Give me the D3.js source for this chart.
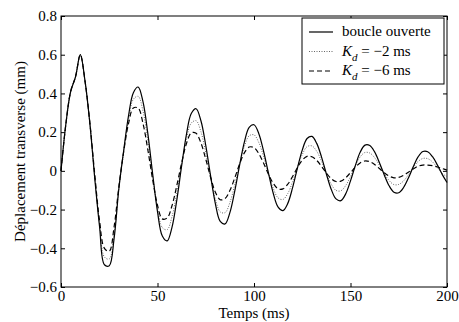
<!DOCTYPE html>
<html lang="fr">
<head>
    <meta charset="UTF-8">
    <title>Déplacement transverse</title>
    <script src="https://d3js.org/d3.v7.min.js"></script>
    <style>
        body { margin: 0; background: #fff; }
        text { font-family: "Liberation Serif", "Times New Roman", serif; font-size: 15px; fill: #000; }
        .axis path { display: none; }
        .axis line { stroke: #000; }
    </style>
</head>
<body>
<script>
    // sample times (ms) and the three responses (mm)
    const timeMs = [0, 2.5, 5, 7.5, 10, 12.5, 15, 17.5, 20, 22.5, 25, 27.5, 30, 32.5, 35, 37.5, 40, 42.5, 45, 47.5,
        50, 52.5, 55, 57.5, 60, 62.5, 65, 67.5, 70, 72.5, 75, 77.5, 80, 82.5, 85, 87.5, 90, 92.5, 95, 97.5,
        100, 102.5, 105, 107.5, 110, 112.5, 115, 117.5, 120, 122.5, 125, 127.5, 130, 132.5, 135, 137.5, 140, 142.5, 145, 147.5,
        150, 152.5, 155, 157.5, 160, 162.5, 165, 167.5, 170, 172.5, 175, 177.5, 180, 182.5, 185, 187.5, 190, 192.5, 195, 197.5, 200];

    const openLoop = [0, 0.24, 0.41, 0.485, 0.60, 0.46, 0.24, -0.04, -0.29, -0.485,
        -0.49, -0.35, -0.09, 0.106, 0.286, 0.404, 0.433, 0.356, 0.192, -0.016,
        -0.211, -0.337, -0.362, -0.292, -0.151, 0.025, 0.189, 0.296, 0.321, 0.259,
        0.132, -0.025, -0.170, -0.261, -0.274, -0.216, -0.106, 0.027, 0.148, 0.225,
        0.238, 0.192, 0.100, -0.012, -0.117, -0.187, -0.205, -0.168, -0.087, 0.014,
        0.107, 0.167, 0.178, 0.142, 0.071, -0.016, -0.095, -0.145, -0.154, -0.119,
        -0.052, 0.027, 0.096, 0.133, 0.131, 0.098, 0.042, -0.021, -0.077, -0.110,
        -0.113, -0.086, -0.037, 0.021, 0.072, 0.100, 0.099, 0.073, 0.031, -0.018,
        -0.060];

    const kdMinus2 = [0, 0.24, 0.41, 0.485, 0.60, 0.46, 0.24, -0.03, -0.275, -0.445,
        -0.455, -0.33, -0.09, 0.10, 0.265, 0.37, 0.385, 0.308, 0.157, -0.027,
        -0.192, -0.293, -0.304, -0.237, -0.114, 0.033, 0.165, 0.247, 0.259, 0.202,
        0.094, -0.033, -0.146, -0.212, -0.216, -0.164, -0.073, 0.033, 0.126, 0.181,
        0.186, 0.146, 0.073, -0.013, -0.091, -0.140, -0.148, -0.117, -0.056, 0.018,
        0.084, 0.125, 0.129, 0.101, 0.049, -0.013, -0.068, -0.101, -0.103, -0.076,
        -0.029, 0.026, 0.072, 0.095, 0.092, 0.068, 0.029, -0.014, -0.050, -0.071,
        -0.070, -0.052, -0.020, 0.017, 0.048, 0.064, 0.063, 0.046, 0.017, -0.013,
        -0.03];

    const kdMinus6 = [0, 0.24, 0.41, 0.485, 0.60, 0.46, 0.245, -0.02, -0.26, -0.40,
        -0.415, -0.29, -0.08, 0.10, 0.245, 0.325, 0.324, 0.244, 0.108, -0.046,
        -0.177, -0.248, -0.244, -0.180, -0.076, 0.041, 0.141, 0.196, 0.194, 0.144,
        0.061, -0.033, -0.110, -0.149, -0.143, -0.102, -0.037, 0.034, 0.093, 0.123,
        0.120, 0.089, 0.039, -0.018, -0.065, -0.093, -0.093, -0.069, -0.029, 0.017,
        0.055, 0.075, 0.073, 0.054, 0.023, -0.011, -0.040, -0.055, -0.053, -0.036,
        -0.009, 0.019, 0.041, 0.051, 0.047, 0.033, 0.012, -0.010, -0.027, -0.036,
        -0.034, -0.023, -0.007, 0.010, 0.024, 0.030, 0.030, 0.027, 0.020, 0.012,
        0.004];

    const xTicks = [0, 50, 100, 150, 200];
    const yTicks = [-0.6, -0.4, -0.2, 0, 0.2, 0.4, 0.6, 0.8];
    const yTickLabels = ["\u22120.6", "\u22120.4", "\u22120.2", "0", "0.2", "0.4", "0.6", "0.8"];

    let width = 459;
    let height = 322;
    let plotLeft = 61, plotRight = 447, plotTop = 16, plotBottom = 287;

    let svg = d3.select("body").append("svg")
        .attr("width", width)
        .attr("height", height);

    let x = d3.scaleLinear().domain([0, 200]).range([plotLeft, plotRight]);
    let y = d3.scaleLinear().domain([-0.6, 0.8]).range([plotBottom, plotTop]);

    // axes, ticks pointing inward on all four sides
    svg.append("g").attr("class", "axis")
        .attr("transform", "translate(0," + plotBottom + ")")
        .call(d3.axisBottom(x).tickValues(xTicks).tickSizeInner(-4).tickSizeOuter(0).tickPadding(3));
    svg.append("g").attr("class", "axis")
        .attr("transform", "translate(0," + plotTop + ")")
        .call(d3.axisTop(x).tickValues(xTicks).tickSizeInner(-4).tickSizeOuter(0).tickFormat(""));
    svg.append("g").attr("class", "axis")
        .attr("transform", "translate(" + plotLeft + ",0)")
        .call(d3.axisLeft(y).tickValues(yTicks).tickSizeInner(-4).tickSizeOuter(0).tickPadding(4)
            .tickFormat((d, i) => yTickLabels[i]));
    svg.append("g").attr("class", "axis")
        .attr("transform", "translate(" + plotRight + ",0)")
        .call(d3.axisRight(y).tickValues(yTicks).tickSizeInner(-4).tickSizeOuter(0).tickFormat(""));

    svg.selectAll(".axis").attr("font-family", null).attr("font-size", null);

    // frame
    svg.append("rect")
        .attr("x", plotLeft)
        .attr("y", plotTop)
        .attr("width", plotRight - plotLeft)
        .attr("height", plotBottom - plotTop)
        .attr("fill", "none")
        .attr("stroke", "#000")
        .attr("stroke-width", 1);

    let line = d3.line()
        .x(d => x(d[0]))
        .y(d => y(d[1]))
        .curve(d3.curveCatmullRom);

    let series = [
        {values: kdMinus2, stroke: "#555", width: 0.9, dash: "1,1.5"},
        {values: kdMinus6, stroke: "#000", width: 1.2, dash: "5,3"},
        {values: openLoop, stroke: "#000", width: 1.2, dash: null}
    ];

    series.forEach(s => {
        svg.append("path")
            .datum(timeMs.map((t, i) => [t, s.values[i]]))
            .attr("d", line)
            .attr("fill", "none")
            .attr("stroke", s.stroke)
            .attr("stroke-width", s.width)
            .attr("stroke-dasharray", s.dash);
    });

    // axis titles
    svg.append("text")
        .attr("x", (plotLeft + plotRight) / 2)
        .attr("y", 318)
        .attr("text-anchor", "middle")
        .text("Temps (ms)");

    svg.append("text")
        .attr("transform", "translate(25," + ((plotTop + plotBottom) / 2) + ") rotate(-90)")
        .attr("text-anchor", "middle")
        .text("Déplacement transverse (mm)");

    // legend
    let legend = svg.append("g");
    legend.append("rect")
        .attr("x", 302)
        .attr("y", 18)
        .attr("width", 142)
        .attr("height", 66)
        .attr("fill", "#fff")
        .attr("stroke", "#000")
        .attr("stroke-width", 1);

    let legendRows = [
        {y: 32, stroke: "#000", width: 1.2, dash: null},
        {y: 51.5, stroke: "#555", width: 0.9, dash: "1,1.5"},
        {y: 71, stroke: "#000", width: 1.2, dash: "5,3"}
    ];
    legendRows.forEach(r => {
        legend.append("line")
            .attr("x1", 309).attr("x2", 333)
            .attr("y1", r.y).attr("y2", r.y)
            .attr("stroke", r.stroke)
            .attr("stroke-width", r.width)
            .attr("stroke-dasharray", r.dash);
    });

    legend.append("text")
        .attr("x", 342)
        .attr("y", 36)
        .text("boucle ouverte");

    function kdLabel(yPos, value) {
        let t = legend.append("text").attr("x", 342).attr("y", yPos);
        t.append("tspan").attr("font-style", "italic").text("K");
        t.append("tspan").attr("font-style", "italic").attr("font-size", "11px").attr("dy", 5).text("d");
        t.append("tspan").attr("dy", -5).text(" = \u2212" + value + " ms");
    }
    kdLabel(55.5, 2);
    kdLabel(75, 6);
</script>
</body>
</html>
